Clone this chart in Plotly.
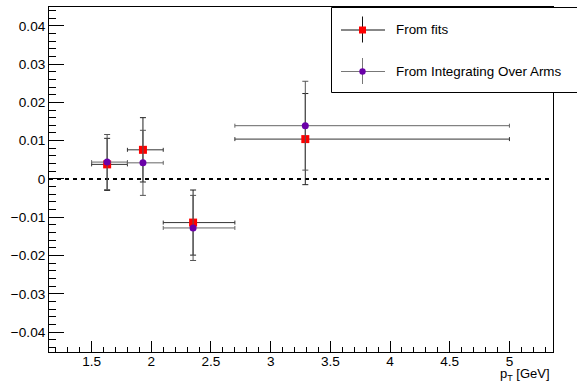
import plotly.graph_objects as go

# pT bins (GeV) and mean pT of each bin
bin_lo = [1.5, 1.8, 2.1, 2.7]
bin_hi = [1.8, 2.1, 2.7, 5.0]
pt_mean = [1.63, 1.93, 2.35, 3.29]

# asymmetry extracted from fits
fits_val = [0.0038, 0.0076, -0.0114, 0.0104]
fits_err = [0.0068, 0.0084, 0.0085, 0.0119]

# asymmetry from integrating over arms
arms_val = [0.0044, 0.0042, -0.0128, 0.0139]
arms_err = [0.0072, 0.0085, 0.0085, 0.0116]

fits_label = "From fits"
arms_label = "From Integrating Over Arms"

RED = "#ff0000"
PURPLE = "#6a00a8"
FONT = "Liberation Sans, Arial, Helvetica, sans-serif"

W, H = 577, 382
ML, MR, MT, MB = 49, 24, 7, 30
PW, PH = W - ML - MR, H - MT - MB

x_plus = [h - m for h, m in zip(bin_hi, pt_mean)]
x_minus = [m - l for l, m in zip(bin_lo, pt_mean)]

fig = go.Figure()

fig.add_trace(go.Scatter(
    x=pt_mean, y=fits_val, mode="markers", name=fits_label,
    marker=dict(symbol="square", size=8, color=RED, line=dict(width=0)),
    error_x=dict(type="data", array=x_plus, arrayminus=x_minus,
                 color="#333333", thickness=1, width=2),
    error_y=dict(type="data", array=fits_err, color="#222222",
                 thickness=1, width=3),
    showlegend=False,
))
fig.add_trace(go.Scatter(
    x=pt_mean, y=arms_val, mode="markers", name=arms_label,
    marker=dict(symbol="circle", size=7, color=PURPLE, line=dict(width=0)),
    error_x=dict(type="data", array=x_plus, arrayminus=x_minus,
                 color="#666666", thickness=1, width=2),
    error_y=dict(type="data", array=arms_err, color="#555555",
                 thickness=1, width=3),
    showlegend=False,
))


def px(x):
    return (x - ML) / PW


def py(y):
    return (H - MB - y) / PH


shapes = [
    # dotted zero line
    dict(type="line", xref="paper", yref="y", x0=0, x1=1, y0=0, y1=0,
         line=dict(color="black", width=2, dash="4px,4px"), layer="below"),
    # legend box
    dict(type="rect", xref="paper", yref="paper",
         x0=px(331.5), x1=px(600), y0=py(92.5), y1=py(7.5),
         line=dict(color="black", width=1), fillcolor="white"),
]

legend_rows = [
    (fits_label, 30, "square", RED, "#111111"),
    (arms_label, 71.5, "circle", PURPLE, "#777777"),
]
annotations = []
for label, yc, sym, col, lcol in legend_rows:
    shapes.append(dict(type="line", xref="paper", yref="paper",
                       x0=px(341), x1=px(385), y0=py(yc), y1=py(yc),
                       line=dict(color=lcol, width=1)))
    shapes.append(dict(type="line", xref="paper", yref="paper",
                       x0=px(362.5), x1=px(362.5), y0=py(yc - 13.5), y1=py(yc + 12.5),
                       line=dict(color=lcol, width=1)))
    r = 3.5 if sym == "square" else 3.2
    shapes.append(dict(type="rect" if sym == "square" else "circle",
                       xref="paper", yref="paper",
                       x0=px(362.5 - r), x1=px(362.5 + r),
                       y0=py(yc + r), y1=py(yc - r),
                       line=dict(width=0), fillcolor=col))
    annotations.append(dict(text=label, xref="paper", yref="paper",
                            x=px(394), y=py(yc), xanchor="left", yanchor="middle",
                            showarrow=False, font=dict(family=FONT, size=13.4, color="black")))

annotations.append(dict(text="p<sub><span style='font-size:9px'>T</span></sub> [GeV]",
                        xref="paper", yref="paper", borderpad=0,
                        x=px(551), y=py(374.5), xanchor="right", yanchor="middle",
                        showarrow=False, font=dict(family=FONT, size=13, color="black")))

fig.update_layout(
    width=W, height=H,
    margin=dict(l=ML, r=MR, t=MT, b=MB, pad=0),
    paper_bgcolor="white", plot_bgcolor="white",
    font=dict(family=FONT, size=13.6, color="black"),
    shapes=shapes, annotations=annotations,
    showlegend=False,
)

fig.update_xaxes(
    range=[1.143, 5.365], tick0=0, dtick=0.5,
    ticks="inside", ticklen=11, tickwidth=1, tickcolor="black",
    minor=dict(dtick=0.1, ticks="inside", ticklen=5, tickwidth=1, tickcolor="black"),
    showline=True, linecolor="black", linewidth=1, mirror=True,
    showgrid=False, zeroline=False, ticklabelstandoff=-3,
    tickfont=dict(family=FONT, size=13.6, color="black"),
)
fig.update_yaxes(
    range=[-0.0452, 0.0449], tick0=0, dtick=0.01,
    ticks="inside", ticklen=15, tickwidth=1, tickcolor="black",
    minor=dict(dtick=0.002, ticks="inside", ticklen=7, tickwidth=1, tickcolor="black"),
    showline=True, linecolor="black", linewidth=1, mirror=True,
    showgrid=False, zeroline=False,
    tickfont=dict(family=FONT, size=13.6, color="black"),
)

fig.write_html("out.html")
